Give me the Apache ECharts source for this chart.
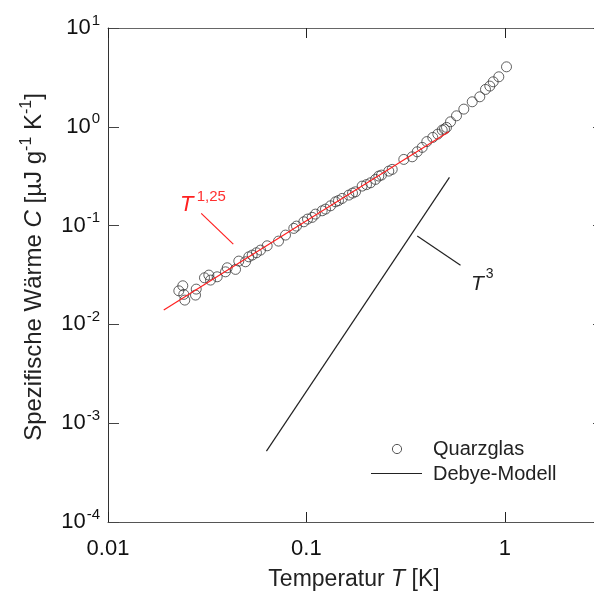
<!DOCTYPE html>
<html><head><meta charset="utf-8">
<script src="https://cdn.jsdelivr.net/npm/echarts@6/dist/echarts.min.js"></script>
<style>html,body{margin:0;padding:0;background:#fff;overflow:hidden}#c{width:620px;height:597px}</style>
</head><body><div id="c"></div><script>
// Quarzglas measurements: temperature T [K] and specific heat C [µJ g^-1 K^-1]
const quarzT = [0.02275,0.02382,0.02410,0.02438,0.02761,0.02784,0.03064,0.03223,0.03287,0.03550,
  0.03910,0.03990,0.04393,0.04563,0.04932,0.05124,0.05330,0.05601,0.05871,0.06342,
  0.07234,0.07846,0.08640,0.08913,0.09703,0.1013,0.1069,0.1111,0.1201,0.1248,
  0.1323,0.1402,0.1451,0.1515,0.1636,0.1708,0.1768,0.1910,0.2009,0.2104,
  0.2230,0.2317,0.2390,0.2602,0.2707,0.3097,0.3414,0.3618,0.3835,0.4045,
  0.4336,0.4595,0.4836,0.4967,0.5084,0.5325,0.5708,0.6215,0.6851,0.7482,
  0.7992,0.8403,0.8740,0.9328,1.020];
const quarzC = [0.02188,0.02460,0.02013,0.01762,0.01980,0.02276,0.02963,0.03155,0.02808,0.03033,
  0.03406,0.03741,0.03604,0.04373,0.04303,0.04831,0.05027,0.05307,0.05649,0.06245,
  0.06966,0.08017,0.09371,0.09886,0.1093,0.1164,0.1211,0.1307,0.1412,0.1469,
  0.1586,0.1741,0.1791,0.1885,0.2036,0.2133,0.2198,0.2511,0.2600,0.2711,
  0.2935,0.3170,0.3245,0.3562,0.3706,0.4677,0.4970,0.5584,0.6187,0.7083,
  0.7809,0.8435,0.9260,0.9478,0.986,1.124,1.292,1.510,1.791,2.012,
  2.390,2.582,2.855,3.207,4.047];
// T^1.25 fit line (end points)
const fitT = [0.0191, 0.522];
const fitC = [0.0140, 0.890];
// Debye model T^3 (end points)
const debyeT = [0.0629, 0.526];
const debyeC = [0.000522, 0.308];
// annotation leader lines
const fitLeaderT = [0.0295, 0.0428];
const fitLeaderC = [0.133, 0.0650];
const debyeLeaderT = [0.362, 0.598];
const debyeLeaderC = [0.0783, 0.0398];
// tick labels
const xTickValues = [0.01, 0.1, 1];
const xTickLabels = ['0.01', '0.1', '1'];
const yTickValues = [10, 1, 0.1, 0.01, 0.001, 0.0001];
const yTickExps = ['1', '0', '-1', '-2', '-3', '-4'];

const FONT = 'Liberation Sans, Arial, sans-serif';
const zip = (a, b) => a.map((v, i) => [v, b[i]]);
const near = (v, t) => Math.abs(Math.log10(v) - Math.log10(t)) < 1e-6;

function xFmt(v) {
  for (let i = 0; i < xTickValues.length; i++) if (near(v, xTickValues[i])) return xTickLabels[i];
  return '';
}
function yFmt(v) {
  for (let i = 0; i < yTickValues.length; i++) if (near(v, yTickValues[i])) return '10{s|' + yTickExps[i] + '}';
  return '';
}

const chart = echarts.init(document.getElementById('c'), null, {renderer: 'canvas'});
const gridBox = {left: 108, top: 28, width: 496, height: 494};
const xBase = {type: 'log', logBase: 10, min: 0.01, max: 3.1623, gridIndex: 0,
  splitLine: {show: false}, minorTick: {show: false}};
const yBase = {type: 'log', logBase: 10, min: 0.0001, max: 10, gridIndex: 0,
  splitLine: {show: false}, minorTick: {show: false}};

chart.setOption({
  animation: false,
  backgroundColor: '#fff',
  grid: gridBox,
  xAxis: [
    Object.assign({}, xBase, {position: 'bottom',
      axisLine: {show: true, lineStyle: {color: '#555', width: 1}},
      axisTick: {show: true, inside: true, length: 10, lineStyle: {color: '#222'}},
      axisLabel: {show: true, formatter: xFmt, margin: 16, fontSize: 22, color: '#111', fontFamily: FONT, showMaxLabel: false}
    }),
    Object.assign({}, xBase, {position: 'top',
      axisLine: {show: true, lineStyle: {color: '#666', width: 1}},
      axisTick: {show: true, inside: true, length: 10, lineStyle: {color: '#222'}},
      axisLabel: {show: false}
    })
  ],
  yAxis: [
    Object.assign({}, yBase, {position: 'left',
      axisLine: {show: true, lineStyle: {color: '#333', width: 1}},
      axisTick: {show: true, inside: true, length: 11, lineStyle: {color: '#444'}},
      axisLabel: {show: true, formatter: yFmt, margin: 8, color: '#111', fontFamily: FONT, fontSize: 22,
        rich: {s: {fontSize: 15, fontFamily: FONT, color: '#111', padding: [0, 0, 15, 1]}}}
    }),
    Object.assign({}, yBase, {position: 'right',
      axisLine: {show: true, lineStyle: {color: '#555', width: 1}},
      axisTick: {show: true, inside: true, length: 11, lineStyle: {color: '#444'}},
      axisLabel: {show: false}
    })
  ],
  series: [
    {type: 'line', name: 'fit', data: zip(fitT, fitC), symbol: 'none', z: 3,
      lineStyle: {color: '#ff2020', width: 1.2}},
    {type: 'line', name: 'fitLeader', data: zip(fitLeaderT, fitLeaderC), symbol: 'none',
      lineStyle: {color: '#ff2020', width: 1.2}},
    {type: 'line', name: 'Debye-Modell', data: zip(debyeT, debyeC), symbol: 'none',
      lineStyle: {color: '#222', width: 1.2}},
    {type: 'line', name: 'debyeLeader', data: zip(debyeLeaderT, debyeLeaderC), symbol: 'none',
      lineStyle: {color: '#222', width: 1.2}},
    {type: 'scatter', name: 'Quarzglas', data: zip(quarzT, quarzC), symbol: 'circle', symbolSize: 10, z: 2,
      itemStyle: {color: 'rgba(0,0,0,0)', borderColor: '#3a3a3a', borderWidth: 1}}
  ],
  graphic: [
    // y axis title
    {type: 'text', x: 34, y: 267, rotation: Math.PI / 2,
      style: {text: 'Spezifische Wärme {i|C} [µJ g{s|-1} K{s|-1}]', fill: '#222', font: '24px ' + FONT,
        align: 'center', verticalAlign: 'middle',
        rich: {i: {fontStyle: 'italic', fontSize: 24, fontFamily: FONT, fill: '#222'},
               s: {fontSize: 16, fontFamily: FONT, fill: '#222', padding: [0, 0, 14, 0]}}}},
    // x axis title
    {type: 'text', x: 354, y: 580,
      style: {text: 'Temperatur {i|T} [K]', fill: '#222', font: '23px ' + FONT,
        align: 'center', verticalAlign: 'middle',
        rich: {i: {fontStyle: 'italic', fontSize: 23, fontFamily: FONT, fill: '#222'}}}},
    // T^1,25 label
    {type: 'text', x: 180, y: 205,
      style: {text: '{i|T} {s|1,25}', fill: '#ff2020', align: 'left', verticalAlign: 'middle',
        rich: {i: {fontStyle: 'italic', fontSize: 22, fontFamily: FONT, fill: '#ff2020'},
               s: {fontSize: 15, fontFamily: FONT, fill: '#ff3030', padding: [0, 0, 16, 0]}}}},
    // T^3 label
    {type: 'text', x: 471, y: 284,
      style: {text: '{i|T}{s|3}', fill: '#222', align: 'left', verticalAlign: 'middle',
        rich: {i: {fontStyle: 'italic', fontSize: 21, fontFamily: FONT, fill: '#222'},
               s: {fontSize: 14, fontFamily: FONT, fill: '#222', padding: [0, 0, 20, 2]}}}},
    // legend
    {type: 'circle', shape: {cx: 397, cy: 449, r: 4.6},
      style: {fill: 'none', stroke: '#555', lineWidth: 1}},
    {type: 'text', x: 433, y: 449,
      style: {text: 'Quarzglas', fill: '#222', font: '20px ' + FONT, align: 'left', verticalAlign: 'middle'}},
    {type: 'line', shape: {x1: 371, y1: 473.5, x2: 422, y2: 473.5},
      style: {stroke: '#222', lineWidth: 1}},
    {type: 'text', x: 433, y: 474,
      style: {text: 'Debye-Modell', fill: '#222', font: '20px ' + FONT, align: 'left', verticalAlign: 'middle'}}
  ]
});
</script></body></html>
